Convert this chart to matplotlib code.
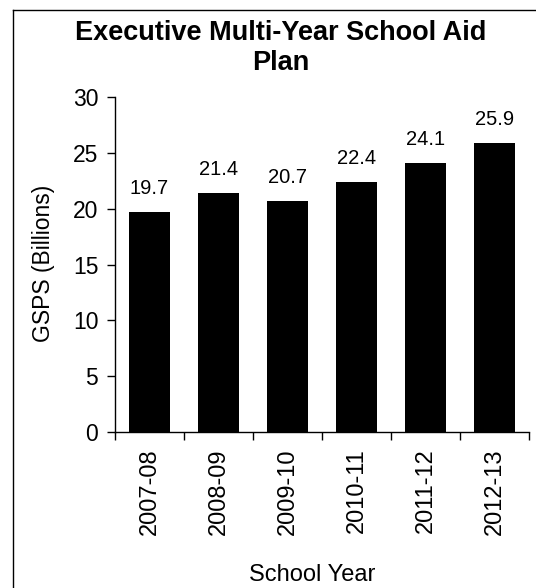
import matplotlib
matplotlib.use("Agg")
import matplotlib.pyplot as plt
from matplotlib.lines import Line2D

categories = ["2007-08", "2008-09", "2009-10", "2010-11", "2011-12", "2012-13"]
values = [19.7, 21.4, 20.7, 22.4, 24.1, 25.9]
yticks = [0, 5, 10, 15, 20, 25, 30]

plt.rcParams['font.family'] = ['Liberation Sans', 'DejaVu Sans']

W, H = 536, 588
fig = plt.figure(figsize=(W / 100, H / 100), dpi=100)

ax = fig.add_axes([115 / W, 1 - 432 / H, (529 - 115) / W, (432 - 97) / H])
x = list(range(len(categories)))
ax.bar(x, values, width=0.6, color='black')
for xi, v in zip(x, values):
    ax.annotate(f"{v:.1f}", (xi, v), xytext=(0, 10), textcoords='offset points',
                ha='center', va='bottom', fontsize=14.5)

ax.set_xlim(-0.5, len(categories) - 0.5)
ax.set_ylim(0, 30)
ax.set_yticks(yticks)
ax.set_yticklabels([str(t) for t in yticks], fontsize=16.5)
ax.set_xticks(x)
ax.set_xticklabels(categories, rotation=90, fontsize=17)
ax.tick_params(axis='x', length=0, pad=12)
ax.set_xticks([i - 0.5 for i in range(len(categories) + 1)], minor=True)
ax.tick_params(axis='x', which='minor', length=6, width=1, direction='out')
ax.tick_params(axis='y', length=6, width=1, direction='out', pad=6)
for s in ['top', 'right']:
    ax.spines[s].set_visible(False)
ax.spines['left'].set_linewidth(1)
ax.spines['bottom'].set_linewidth(1)

fig.text(281 / W, 1 - 33 / H, "Executive Multi-Year School Aid", ha='center', va='center',
         fontsize=19.5, fontweight='bold')
fig.text(281 / W, 1 - 63 / H, "Plan", ha='center', va='center',
         fontsize=19.5, fontweight='bold')
fig.text(44 / W, 1 - 263 / H, "GSPS (Billions)", ha='center', va='center',
         rotation=90, fontsize=16.5)
fig.text(312 / W, 1 - 575 / H, "School Year", ha='center', va='center', fontsize=17)

# figure border (top and left visible)
fig.add_artist(Line2D([13 / W, 13 / W], [0, 1 - 10 / H], color='black', lw=1,
                      transform=fig.transFigure))
fig.add_artist(Line2D([13 / W, 1], [1 - 10 / H, 1 - 10 / H], color='black', lw=1,
                      transform=fig.transFigure))

fig.savefig("out.png", dpi=100)
